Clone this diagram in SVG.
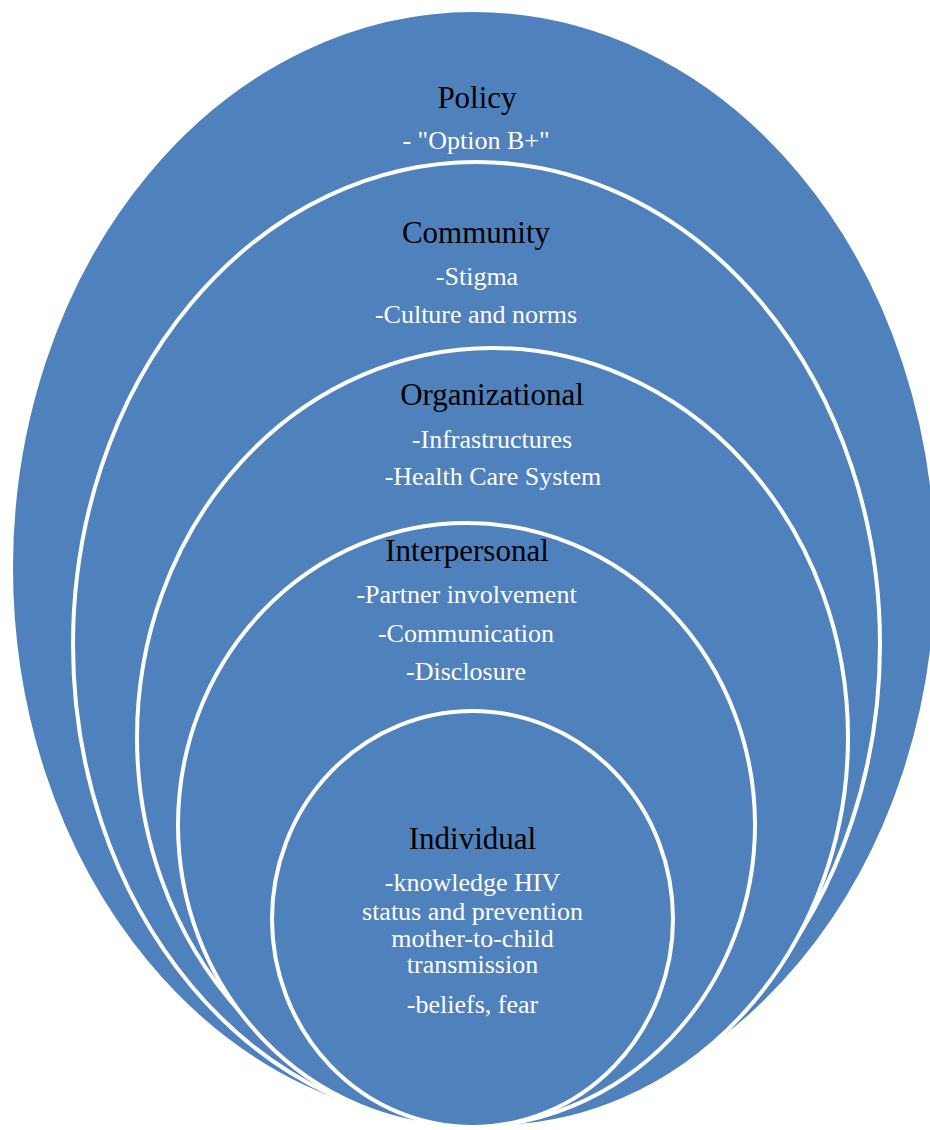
<svg xmlns="http://www.w3.org/2000/svg" width="930" height="1130" viewBox="0 0 930 1130">
  <style>
    .ring { fill: #4F81BD; stroke: #FFFFFF; stroke-width: 4; }
    .title { font-family: "Liberation Serif", "Times New Roman", serif; font-size: 31px; fill: #000000; text-anchor: middle; }
    .item { font-family: "Liberation Serif", "Times New Roman", serif; font-size: 26px; fill: #FFFFFF; text-anchor: middle; }
  </style>
  <rect width="930" height="1130" fill="#FFFFFF"/>

  <!-- Nested levels, outermost first; all rings share the same bottom point -->
  <g id="policy">
    <ellipse class="ring" cx="474" cy="568" rx="463" ry="558"/>
    <text class="title" x="477" y="108">Policy</text>
    <text class="item" x="476" y="149">- "Option B+"</text>
  </g>

  <g id="community">
    <ellipse class="ring" cx="476.5" cy="644.5" rx="403.5" ry="482.5"/>
    <text class="title" x="476" y="243">Community</text>
    <text class="item" x="477" y="285">-Stigma</text>
    <text class="item" x="476" y="323">-Culture and norms</text>
  </g>

  <g id="organizational">
    <ellipse class="ring" cx="492.5" cy="737.5" rx="355.5" ry="389.5"/>
    <text class="title" x="492" y="405">Organizational</text>
    <text class="item" x="492" y="448">-Infrastructures</text>
    <text class="item" x="493" y="485">-Health Care System</text>
  </g>

  <g id="interpersonal">
    <ellipse class="ring" cx="466.5" cy="825" rx="288.5" ry="302"/>
    <text class="title" x="467" y="561">Interpersonal</text>
    <text class="item" x="466.5" y="603">-Partner involvement</text>
    <text class="item" x="466" y="642">-Communication</text>
    <text class="item" x="466" y="680">-Disclosure</text>
  </g>

  <g id="individual">
    <ellipse class="ring" cx="472.5" cy="919" rx="200.5" ry="208"/>
    <text class="title" x="472.5" y="849">Individual</text>
    <text class="item" x="472.5" y="891">-knowledge HIV</text>
    <text class="item" x="472.5" y="920">status and prevention</text>
    <text class="item" x="472.5" y="947">mother-to-child</text>
    <text class="item" x="472.5" y="973">transmission</text>
    <text class="item" x="472.5" y="1013">-beliefs, fear</text>
  </g>

  <!-- no connectors in this diagram -->
  <g id="connectors"/>
</svg>
